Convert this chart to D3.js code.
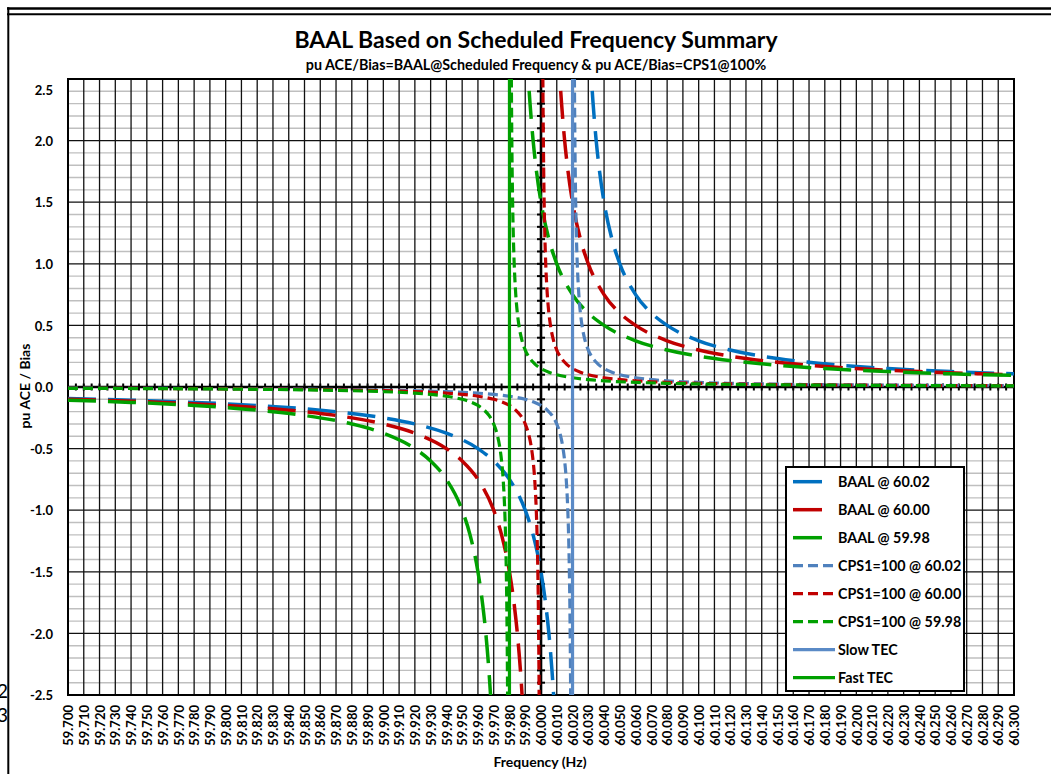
<!DOCTYPE html>
<html><head><meta charset="utf-8">
<script src="https://cdn.jsdelivr.net/npm/d3@7"></script>
<style>
body{margin:0;background:#fff;}
svg{display:block;font-family:Lato,"Open Sans",sans-serif;font-weight:bold;}
</style></head><body>
<svg id="c" width="1051" height="774"></svg>
<script>
// ---------- DATA ----------
const xTicks = [59.700,59.710,59.720,59.730,59.740,59.750,59.760,59.770,59.780,59.790,
  59.800,59.810,59.820,59.830,59.840,59.850,59.860,59.870,59.880,59.890,
  59.900,59.910,59.920,59.930,59.940,59.950,59.960,59.970,59.980,59.990,
  60.000,60.010,60.020,60.030,60.040,60.050,60.060,60.070,60.080,60.090,
  60.100,60.110,60.120,60.130,60.140,60.150,60.160,60.170,60.180,60.190,
  60.200,60.210,60.220,60.230,60.240,60.250,60.260,60.270,60.280,60.290,60.300];
const yTicks = [2.5,2.0,1.5,1.0,0.5,0.0,-0.5,-1.0,-1.5,-2.0,-2.5];

const baal6002F = [59.70,59.74,59.78,59.82,59.86,59.89,59.92,59.94,59.96,59.97,59.98,59.99,59.995,60.000,60.003,60.005,60.007,60.008,60.009, 60.02,
  60.031,60.032,60.033,60.035,60.037,60.04,60.045,60.05,60.06,60.07,60.08,60.10,60.12,60.15,60.18,60.22,60.26,60.30];
const baal6002V = [-0.094,-0.107,-0.125,-0.15,-0.188,-0.231,-0.3,-0.375,-0.5,-0.6,-0.75,-1.0,-1.2,-1.5,-1.765,-2.0,-2.308,-2.5,-2.727, null,
  2.727,2.5,2.308,2.0,1.765,1.5,1.2,1.0,0.75,0.6,0.5,0.375,0.3,0.231,0.188,0.15,0.125,0.107];

const baal6000F = [59.70,59.72,59.76,59.80,59.84,59.87,59.90,59.92,59.94,59.95,59.96,59.97,59.975,59.98,59.983,59.985,59.987,59.988,59.989, 60.00,
  60.011,60.012,60.013,60.015,60.017,60.02,60.025,60.03,60.04,60.05,60.06,60.08,60.10,60.13,60.16,60.20,60.24,60.28,60.30];
const baal6000V = [-0.1,-0.107,-0.125,-0.15,-0.188,-0.231,-0.3,-0.375,-0.5,-0.6,-0.75,-1.0,-1.2,-1.5,-1.765,-2.0,-2.308,-2.5,-2.727, null,
  2.727,2.5,2.308,2.0,1.765,1.5,1.2,1.0,0.75,0.6,0.5,0.375,0.3,0.231,0.188,0.15,0.125,0.107,0.1];

const baal5998F = [59.70,59.74,59.78,59.82,59.85,59.88,59.90,59.92,59.93,59.94,59.95,59.955,59.96,59.963,59.965,59.967,59.968,59.969, 59.98,
  59.991,59.992,59.993,59.995,59.997,60.00,60.005,60.01,60.02,60.03,60.04,60.06,60.08,60.11,60.14,60.18,60.22,60.26,60.30];
const baal5998V = [-0.107,-0.125,-0.15,-0.188,-0.231,-0.3,-0.375,-0.5,-0.6,-0.75,-1.0,-1.2,-1.5,-1.765,-2.0,-2.308,-2.5,-2.727, null,
  2.727,2.5,2.308,2.0,1.765,1.5,1.2,1.0,0.75,0.6,0.5,0.375,0.3,0.231,0.188,0.15,0.125,0.107,0.094];

const cps6002F = [59.70,59.76,59.82,59.88,59.92,59.94,59.96,59.97,59.98,59.99,59.995,60.00,60.004,60.007,60.01,60.012,60.014,60.015,60.016,60.017,60.0175,60.018,60.0185,60.0188,60.019, 60.02,
  60.021,60.0212,60.0215,60.022,60.0225,60.023,60.024,60.025,60.026,60.028,60.03,60.033,60.036,60.04,60.045,60.05,60.06,60.07,60.08,60.10,60.12,60.16,60.22,60.30];
const cps6002V = [-0.0094,-0.0115,-0.015,-0.0214,-0.03,-0.0375,-0.05,-0.06,-0.075,-0.1,-0.12,-0.15,-0.188,-0.231,-0.3,-0.375,-0.5,-0.6,-0.75,-1.0,-1.2,-1.5,-2.0,-2.5,-3.0, null,
  3.0,2.5,2.0,1.5,1.2,1.0,0.75,0.6,0.5,0.375,0.3,0.231,0.188,0.15,0.12,0.1,0.075,0.06,0.05,0.0375,0.03,0.0214,0.015,0.0107];

const cps6000F = [59.70,59.74,59.80,59.86,59.90,59.92,59.94,59.95,59.96,59.97,59.975,59.98,59.984,59.987,59.99,59.992,59.994,59.995,59.996,59.997,59.9975,59.998,59.9985,59.9988,59.999, 60.00,
  60.001,60.0012,60.0015,60.002,60.0025,60.003,60.004,60.005,60.006,60.008,60.01,60.013,60.016,60.02,60.025,60.03,60.04,60.05,60.06,60.08,60.10,60.14,60.20,60.26,60.30];
const cps6000V = [-0.01,-0.0115,-0.015,-0.0214,-0.03,-0.0375,-0.05,-0.06,-0.075,-0.1,-0.12,-0.15,-0.188,-0.231,-0.3,-0.375,-0.5,-0.6,-0.75,-1.0,-1.2,-1.5,-2.0,-2.5,-3.0, null,
  3.0,2.5,2.0,1.5,1.2,1.0,0.75,0.6,0.5,0.375,0.3,0.231,0.188,0.15,0.12,0.1,0.075,0.06,0.05,0.0375,0.03,0.0214,0.015,0.0115,0.01];

const cps5998F = [59.70,59.78,59.84,59.88,59.90,59.92,59.93,59.94,59.95,59.955,59.96,59.964,59.967,59.97,59.972,59.974,59.975,59.976,59.977,59.9775,59.978,59.9785,59.9788,59.979, 59.98,
  59.981,59.9812,59.9815,59.982,59.9825,59.983,59.984,59.985,59.986,59.988,59.99,59.993,59.996,60.00,60.005,60.01,60.02,60.03,60.04,60.06,60.08,60.12,60.18,60.24,60.30];
const cps5998V = [-0.0107,-0.015,-0.0214,-0.03,-0.0375,-0.05,-0.06,-0.075,-0.1,-0.12,-0.15,-0.188,-0.231,-0.3,-0.375,-0.5,-0.6,-0.75,-1.0,-1.2,-1.5,-2.0,-2.5,-3.0, null,
  3.0,2.5,2.0,1.5,1.2,1.0,0.75,0.6,0.5,0.375,0.3,0.231,0.188,0.15,0.12,0.1,0.075,0.06,0.05,0.0375,0.03,0.0214,0.015,0.0115,0.0094];

const slowTecF = [60.02, 60.02];
const slowTecV = [-2.5, 2.5];
const fastTecF = [59.98, 59.98];
const fastTecV = [-2.5, 2.5];

const seriesNames = ["BAAL @ 60.02","BAAL @ 60.00","BAAL @ 59.98","CPS1=100 @ 60.02","CPS1=100 @ 60.00","CPS1=100 @ 59.98","Slow TEC","Fast TEC"];

// ---------- STYLE ----------
const styles = [
  {c:"#0070C0", w:3.5, dash:"28,12", curve:true, leg:[793,822]},
  {c:"#C00000", w:3.5, dash:"28,12", curve:true, leg:[793,822]},
  {c:"#00A000", w:3.5, dash:"28,12", curve:true, leg:[793,822]},
  {c:"#4F81BD", w:3.2, dash:"10,5", curve:true, leg:[793,833]},
  {c:"#C00000", w:3.2, dash:"10,5", curve:true, leg:[793,833]},
  {c:"#00A000", w:3.2, dash:"10,5", curve:true, leg:[793,833]},
  {c:"#5A8AC6", w:3.2, dash:null, curve:false, leg:[793,835]},
  {c:"#00A000", w:3.2, dash:null, curve:false, leg:[793,835]}
];
const seriesF = [baal6002F,baal6000F,baal5998F,cps6002F,cps6000F,cps5998F,slowTecF,fastTecF];
const seriesV = [baal6002V,baal6000V,baal5998V,cps6002V,cps6000V,cps5998V,slowTecV,fastTecV];

// ---------- CHART ----------
const M = {left:68, right:1014, top:79, bottom:695};
const x = d3.scaleLinear().domain([59.7,60.3]).range([M.left,M.right]);
const y = d3.scaleLinear().domain([-2.5,2.5]).range([M.bottom,M.top]);
const svg = d3.select("#c");

// outer frame
svg.append("line").attr("x1",7).attr("x2",1051).attr("y1",8.5).attr("y2",8.5).attr("stroke","#000").attr("stroke-width",2.5);
svg.append("line").attr("x1",7).attr("x2",1051).attr("y1",14.3).attr("y2",14.3).attr("stroke","#000").attr("stroke-width",2);
svg.append("text").attr("x",8).attr("y",698).attr("text-anchor","end").attr("font-size",19).attr("font-weight","normal").text("2");
svg.append("text").attr("x",8).attr("y",722).attr("text-anchor","end").attr("font-size",19).attr("font-weight","normal").text("3");
svg.append("line").attr("x1",8.3).attr("x2",8.3).attr("y1",7.3).attr("y2",774).attr("stroke","#000").attr("stroke-width",2);

// gridlines
const g = svg.append("g");
const minorY = d3.range(-25,26).filter(i=>i%5!==0).map(i=>i/10);
g.selectAll(".minor").data(minorY).enter().append("line")
  .attr("x1",M.left).attr("x2",M.right).attr("y1",d=>y(d)).attr("y2",d=>y(d))
  .attr("stroke","#BFBFBF").attr("stroke-width",1.4);
g.selectAll(".vg").data(xTicks).enter().append("line")
  .attr("x1",d=>x(d)).attr("x2",d=>x(d)).attr("y1",M.top).attr("y2",M.bottom)
  .attr("stroke","#111").attr("stroke-width",1.3);
g.selectAll(".hg").data(yTicks).enter().append("line")
  .attr("x1",M.left).attr("x2",M.right).attr("y1",d=>y(d)).attr("y2",d=>y(d))
  .attr("stroke","#111").attr("stroke-width",1.3);
g.append("rect").attr("x",M.left).attr("y",M.top).attr("width",M.right-M.left).attr("height",M.bottom-M.top)
  .attr("fill","none").attr("stroke","#000").attr("stroke-width",2);

// zero axes with tick marks
const ax = svg.append("g");
ax.append("line").attr("x1",M.left).attr("x2",M.right).attr("y1",y(0)).attr("y2",y(0)).attr("stroke","#000").attr("stroke-width",2.6);
ax.append("line").attr("x1",x(60)).attr("x2",x(60)).attr("y1",M.top).attr("y2",M.bottom).attr("stroke","#000").attr("stroke-width",2.6);
const xMinor = d3.range(0,121).map(i=>59.7+i*0.005);
ax.selectAll(".xt").data(xMinor).enter().append("line")
  .attr("x1",d=>x(d)).attr("x2",d=>x(d)).attr("y1",y(0)-3.5).attr("y2",y(0)+3.5)
  .attr("stroke","#000").attr("stroke-width",2);
const yMinor = d3.range(-25,26).map(i=>i/10);
ax.selectAll(".yt").data(yMinor).enter().append("line")
  .attr("x1",x(60)-4).attr("x2",x(60)+4).attr("y1",d=>y(d)).attr("y2",d=>y(d))
  .attr("stroke","#000").attr("stroke-width",2);

// series
svg.append("clipPath").attr("id","clip").append("rect")
  .attr("x",M.left).attr("y",M.top).attr("width",M.right-M.left).attr("height",M.bottom-M.top);
const sg = svg.append("g").attr("clip-path","url(#clip)");
seriesF.forEach((F,i)=>{
  const pts = F.map((f,j)=>[f, seriesV[i][j]]);
  const st = styles[i];
  const line = d3.line().defined(d=>d[1]!==null).x(d=>x(d[0])).y(d=>y(d[1]))
    .curve(st.curve ? d3.curveMonotoneX : d3.curveLinear);
  const p = sg.append("path").attr("d",line(pts)).attr("fill","none")
    .attr("stroke",st.c).attr("stroke-width",st.w);
  if (st.dash) p.attr("stroke-dasharray",st.dash);
});

// axis labels
const xa = svg.append("g").attr("transform",`translate(0,${M.bottom})`)
  .call(d3.axisBottom(x).tickValues(xTicks).tickSize(0).tickFormat(d3.format(".3f")));
xa.select(".domain").remove();
xa.selectAll("text").attr("transform","rotate(-90)").attr("text-anchor","end")
  .attr("x",-10).attr("y",0).attr("dy","0.36em")
  .attr("font-family","Lato").attr("font-weight","bold").attr("font-size",13).attr("fill","#000");

const ya = svg.append("g").attr("transform",`translate(${M.left},0)`)
  .call(d3.axisLeft(y).tickValues(yTicks).tickSize(0).tickFormat(d=>d.toFixed(1)));
ya.select(".domain").remove();
ya.selectAll("text").attr("x",-15).attr("dy","0.36em")
  .attr("font-family","Lato").attr("font-weight","bold").attr("font-size",13).attr("fill","#000");
ya.selectAll(".tick").filter(d=>d===2.5).select("text").attr("dy","1.2em");

// titles
svg.append("text").attr("x",536).attr("y",48).attr("text-anchor","middle").attr("font-size",23)
  .text("BAAL Based on Scheduled Frequency Summary");
svg.append("text").attr("x",536).attr("y",70).attr("text-anchor","middle").attr("font-size",14.3)
  .text("pu ACE/Bias=BAAL@Scheduled Frequency & pu ACE/Bias=CPS1@100%");
svg.append("text").attr("transform","translate(30,386) rotate(-90)").attr("text-anchor","middle").attr("font-size",14)
  .text("pu ACE / Bias");
svg.append("text").attr("x",540).attr("y",767).attr("text-anchor","middle").attr("font-size",14)
  .text("Frequency (Hz)");

// legend
const lg = svg.append("g");
lg.append("rect").attr("x",786).attr("y",467).attr("width",178).attr("height",224)
  .attr("fill","#fff").attr("stroke","#000").attr("stroke-width",2);
seriesNames.forEach((n,i)=>{
  const st = styles[i];
  const cy = 481.7 + i*28;
  const l = lg.append("line").attr("x1",st.leg[0]).attr("x2",st.leg[1]).attr("y1",cy).attr("y2",cy)
    .attr("stroke",st.c).attr("stroke-width",st.w);
  if (st.dash && i>=3) l.attr("stroke-dasharray",st.dash);
  lg.append("text").attr("x",838).attr("y",cy).attr("dy","0.36em").attr("font-size",14.3).text(n);
});
</script></body></html>
